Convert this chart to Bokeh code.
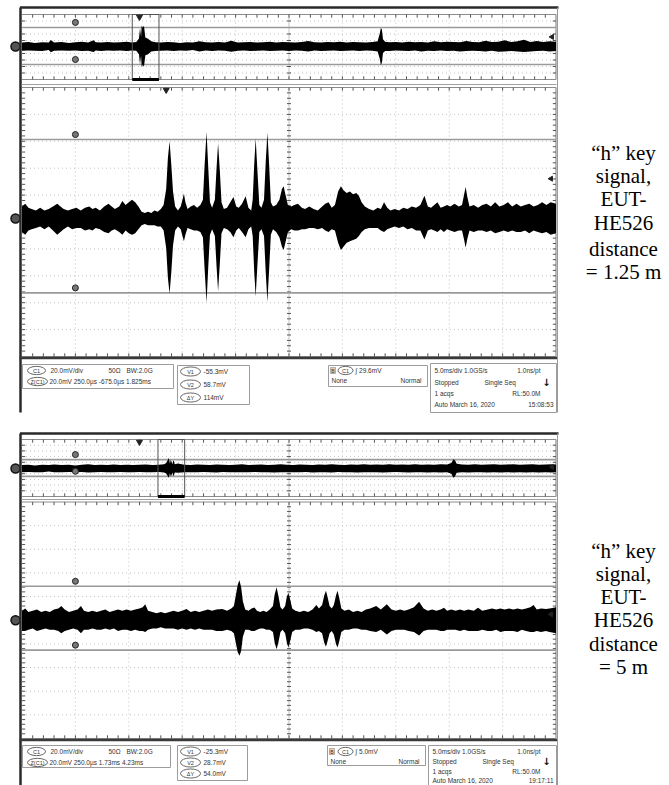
import math
from bokeh.plotting import figure
from bokeh.models import Range1d
from bokeh.embed import file_html
from bokeh.resources import INLINE
from bokeh.core.properties import value

# ================= DATA =================
# ---- Scope 1: "h" key signal, EUT-HE526, distance = 1.25 m
S1_OV_WIN = [-11.0, 39.0]          # ms, overview (5.0 ms/div)
S1_ZOOM_WIN = [-0.675, 1.825]      # ms, zoom window (250 us/div)
S1_OV_V = [-101.5, 98.5]           # mV shown in overview
S1_MAIN_V = [-102.6, 97.4]         # mV shown in zoom view (20 mV/div)
S1_CURSORS = [58.7, -55.3]         # mV
S1_TRIG = 29.6                     # mV

S1_MAIN_T = [-0.675, -0.66, -0.645, -0.63, -0.61, -0.59, -0.57, -0.55, -0.53, -0.51, -0.495, -0.48, -0.46,
             -0.44, -0.42, -0.40, -0.38, -0.36, -0.345, -0.33, -0.31, -0.29, -0.27, -0.255, -0.24, -0.22,
             -0.205, -0.19, -0.175, -0.16, -0.145, -0.13, -0.115, -0.10, -0.085, -0.07, -0.055, -0.04,
             -0.025, -0.012, 0.0, 0.008, 0.016, 0.024, 0.032, 0.042, 0.055, 0.068, 0.078, 0.083, 0.09,
             0.10, 0.115, 0.13, 0.145, 0.16, 0.172, 0.18, 0.189, 0.197, 0.205, 0.215, 0.228, 0.236,
             0.243, 0.251, 0.259, 0.27, 0.285, 0.30, 0.315, 0.328, 0.34, 0.355, 0.372, 0.385, 0.398,
             0.405, 0.412, 0.419, 0.427, 0.436, 0.446, 0.458, 0.466, 0.474, 0.482, 0.49, 0.50, 0.515,
             0.53, 0.542, 0.55, 0.558, 0.57, 0.585, 0.60, 0.617, 0.635, 0.65, 0.67, 0.69, 0.71, 0.73,
             0.745, 0.76, 0.775, 0.79, 0.805, 0.818, 0.83, 0.845, 0.86, 0.875, 0.89, 0.902, 0.915,
             0.93, 0.95, 0.97, 0.99, 1.005, 1.02, 1.035, 1.05, 1.07, 1.09, 1.11, 1.13, 1.15, 1.17,
             1.19, 1.209, 1.225, 1.24, 1.255, 1.27, 1.285, 1.30, 1.315, 1.33, 1.35, 1.37, 1.385,
             1.395, 1.402, 1.41, 1.42, 1.44, 1.46, 1.48, 1.50, 1.52, 1.54, 1.56, 1.58, 1.60, 1.62,
             1.64, 1.66, 1.68, 1.70, 1.72, 1.74, 1.76, 1.78, 1.80, 1.825]
S1_MAIN_UP = [9, 11, 8, 7, 6, 8, 6, 7, 9, 11, 9, 7, 6,
              7, 8, 6, 8, 9, 7, 8, 6, 9, 11, 9, 7, 9,
              13, 10, 12, 14, 12, 9, 5, 4, 5, 4, 6, 5,
              7, 10, 22, 45, 57.5, 40, 20, 9, 6, 9, 15, 18.5, 12,
              7, 9, 10, 8, 10, 14, 40, 64.5, 38, 12, 8, 14, 38,
              56, 36, 12, 7, 8, 12, 16, 9, 8, 11, 16.5, 8, 6,
              14, 40, 59.5, 36, 10, 8, 14, 42, 64, 40, 12, 9, 10,
              14, 22, 24, 18, 10, 9, 10, 11, 8, 7, 9, 7, 6, 9,
              11, 12, 8, 10, 20, 24, 21, 19, 20, 18, 19, 17, 12,
              9, 7, 6, 8, 7, 12, 8, 6, 7, 6, 8, 7, 9, 8,
              10, 17, 9, 8, 10, 12, 8, 9, 10, 9, 11, 9, 10,
              18, 23.5, 16, 9, 10, 8, 10, 11, 9, 12, 9, 10, 12, 9,
              11, 9, 10, 11, 9, 10, 12, 10, 12, 11]
S1_MAIN_DN = [10, 12, 9, 8, 7, 6, 8, 6, 9, 12, 10, 8, 6,
              8, 7, 7, 9, 8, 9, 7, 8, 10, 11, 9, 8, 10,
              12, 9, 11, 12, 11, 8, 5, 4, 5, 5, 5, 6,
              6, 9, 22, 44, 56, 40, 20, 9, 6, 8, 14, 17, 12,
              7, 8, 9, 9, 10, 14, 38, 62.7, 36, 12, 8, 13, 36,
              54, 34, 11, 7, 8, 10, 14, 9, 7, 10, 14, 8, 6,
              13, 39, 58, 35, 10, 8, 13, 40, 62, 38, 12, 8, 10,
              14, 21, 23.5, 18, 10, 8, 9, 9, 8, 8, 7, 7, 8, 7,
              9, 10, 8, 9, 18, 23.5, 21, 18, 17, 16, 15, 13, 10,
              8, 7, 7, 7, 9, 10, 8, 7, 6, 7, 6, 8, 7, 9,
              9, 15.6, 9, 8, 9, 10, 8, 10, 8, 9, 10, 9, 9,
              16, 21.6, 15, 9, 10, 9, 9, 10, 9, 11, 10, 9, 10, 9,
              10, 10, 9, 11, 9, 10, 11, 10, 12, 11]

S1_OV_T = [-11.0, -10.4, -9.8, -9.1, -8.5, -8.3, -8.0, -7.3, -6.6, -6.0, -5.4, -4.8, -4.3, -4.1, -3.6,
           -3.0, -2.4, -1.8, -1.2, -0.7, -0.3, -0.05, 0.05, 0.15, 0.2, 0.3, 0.42, 0.55, 0.8, 1.1, 1.5,
           2.0, 2.6, 3.2, 3.8, 4.4, 5.0, 5.6, 6.2, 6.8, 7.4, 8.0, 8.6, 9.2, 9.8, 10.4, 11.0, 11.6,
           12.2, 12.8, 13.4, 14.0, 14.6, 15.2, 15.8, 16.4, 17.0, 17.6, 18.2, 18.8, 19.4, 20.0, 20.6,
           21.2, 21.8, 22.3, 22.5, 22.6, 22.7, 22.8, 23.0, 23.4, 24.0, 24.6, 25.2, 25.8, 26.4, 27.0,
           27.6, 28.2, 28.8, 29.4, 30.0, 30.6, 31.2, 31.8, 32.4, 33.0, 33.6, 34.2, 34.8, 35.4, 36.0,
           36.6, 37.2, 37.8, 38.4, 39.0]
S1_OV_UP = [12, 14, 11, 13, 12, 20, 12, 14, 11, 13, 15, 12, 19, 13, 12,
            14, 12, 13, 15, 12, 14, 25, 57, 30, 65, 58, 64, 28, 24, 16, 13,
            12, 14, 13, 11, 13, 12, 16, 13, 12, 14, 12, 18, 12, 13, 14, 12, 13,
            15, 12, 14, 13, 12, 14, 17, 13, 12, 14, 13, 15, 12, 14, 13,
            12, 14, 16, 40, 57, 52, 22, 15, 13, 14, 12, 15, 13, 14, 12,
            16, 13, 15, 14, 13, 17, 14, 13, 18, 14, 15, 19, 14, 16, 21,
            14, 17, 14, 16, 15]
S1_OV_DN = [13, 12, 13, 14, 11, 18, 13, 12, 13, 12, 14, 13, 17, 12, 14,
            12, 13, 12, 14, 12, 13, 24, 55, 28, 63, 56, 62, 27, 24, 15, 14,
            13, 12, 14, 12, 13, 11, 15, 12, 14, 12, 13, 16, 13, 12, 14, 13, 12,
            14, 13, 12, 14, 12, 13, 15, 12, 14, 13, 12, 14, 13, 12, 14,
            12, 13, 15, 38, 57, 50, 20, 14, 14, 12, 13, 14, 12, 15, 13,
            14, 12, 14, 13, 15, 14, 13, 14, 15, 13, 16, 15, 14, 15, 17,
            15, 14, 13, 15, 14]

# ---- Scope 2: "h" key signal, EUT-HE526, distance = 5 m
S2_OV_WIN = [-11.0, 39.0]
S2_ZOOM_WIN = [1.73, 4.23]
S2_OV_V = [-90.3, 93.5]
S2_MAIN_V = [-100.0, 100.0]
S2_CURSORS = [28.7, -25.3]
S2_TRIG = 5.0

S2_MAIN_T = [1.73, 1.745, 1.76, 1.78, 1.80, 1.82, 1.84, 1.86, 1.88, 1.90, 1.914, 1.93, 1.95, 1.97, 1.99,
             2.006, 2.02, 2.04, 2.06, 2.08, 2.10, 2.12, 2.14, 2.16, 2.18, 2.20, 2.22, 2.24, 2.26, 2.28,
             2.295, 2.307, 2.32, 2.34, 2.36, 2.38, 2.40, 2.42, 2.44, 2.46, 2.48, 2.50, 2.52, 2.54, 2.56,
             2.58, 2.60, 2.62, 2.64, 2.668, 2.69, 2.71, 2.722, 2.732, 2.74, 2.748, 2.756, 2.764, 2.775,
             2.79, 2.805, 2.818, 2.83, 2.845, 2.86, 2.875, 2.89, 2.905, 2.913, 2.922, 2.93, 2.94, 2.95,
             2.962, 2.97, 2.977, 2.985, 2.995, 3.01, 3.03, 3.05, 3.07, 3.09, 3.108, 3.12, 3.135, 3.145,
             3.153, 3.16, 3.17, 3.18, 3.19, 3.20, 3.207, 3.215, 3.225, 3.24, 3.26, 3.28, 3.30, 3.32,
             3.34, 3.36, 3.388, 3.41, 3.438, 3.46, 3.48, 3.50, 3.52, 3.54, 3.565, 3.589, 3.61, 3.63,
             3.65, 3.67, 3.69, 3.706, 3.72, 3.74, 3.76, 3.78, 3.80, 3.82, 3.845, 3.865, 3.885, 3.91,
             3.93, 3.95, 3.97, 3.99, 4.01, 4.03, 4.05, 4.07, 4.09, 4.11, 4.125, 4.14, 4.16, 4.183,
             4.20, 4.23]
S2_MAIN_UP = [8, 10, 7, 8, 9, 7, 8, 7, 9, 10, 12, 9, 7, 8, 9,
              12, 8, 7, 8, 7, 8, 9, 7, 8, 9, 8, 9, 8, 9, 10,
              11, 13.5, 8, 7, 6, 7, 6, 7, 8, 7, 8, 9.5, 7, 8, 7,
              8, 9, 8, 9, 9.5, 8, 10, 12, 22, 30, 33.8, 28, 16, 9,
              8, 10, 10.7, 8, 7, 8, 7, 9, 12, 22, 28, 21, 11, 9,
              12, 20, 23, 18, 10, 8, 7, 8, 7, 9, 13, 10, 13, 21,
              25, 20, 12, 10, 13, 21, 25, 19, 10, 8, 9, 7, 8, 7,
              9, 10, 12, 9, 13.5, 9, 8, 9, 8, 9, 11, 15.7, 10, 8,
              9, 8, 9, 10.5, 8, 9, 8, 9, 8, 9, 8, 10.5, 8, 9,
              10, 9, 10, 9, 10, 9, 10, 9, 10, 11, 13, 9, 10, 9.5,
              10, 11]
S2_MAIN_DN = [9, 9, 8, 7, 9, 8, 7, 8, 8, 9, 11, 9, 8, 7, 8,
              11, 8, 8, 7, 8, 8, 7, 8, 7, 9, 8, 8, 9, 8, 9,
              9, 10, 8, 7, 7, 6, 7, 7, 7, 8, 7, 8, 7, 8, 7,
              8, 8, 8, 9, 9, 8, 9, 11, 20, 27, 30, 26, 14, 8,
              8, 9, 9, 8, 7, 7, 8, 8, 10, 19, 24.5, 19, 10, 8,
              11, 19, 23, 18, 10, 8, 8, 7, 7, 8, 10, 9, 11, 19,
              22.5, 18, 11, 9, 12, 20, 23, 18, 10, 8, 8, 7, 7, 8,
              8, 9, 10, 8, 12, 9, 8, 8, 8, 9, 10, 13, 9, 8,
              8, 8, 9, 9, 8, 8, 8, 9, 8, 9, 9, 9, 8, 9,
              9, 8, 10, 9, 9, 9, 10, 8, 9, 10, 10, 9, 10, 9,
              10, 11]

S2_OV_T = [-11.0, -10.4, -9.8, -9.1, -8.5, -8.0, -7.3, -6.6, -6.0, -5.4, -4.8, -4.2, -3.6, -3.0, -2.4,
           -1.8, -1.2, -0.6, 0.0, 0.6, 1.2, 1.8, 2.3, 2.5, 2.75, 2.85, 2.92, 2.98, 3.08, 3.15, 3.21,
           3.3, 3.6, 4.2, 4.8, 5.4, 6.0, 6.6, 7.2, 7.8, 8.4, 9.0, 9.6, 10.2, 10.8, 11.4, 12.0, 12.6,
           13.2, 13.8, 14.4, 15.0, 15.6, 16.2, 16.8, 17.4, 18.0, 18.6, 19.2, 19.8, 20.4, 21.0, 21.6,
           22.2, 22.8, 23.4, 24.0, 24.6, 25.2, 25.8, 26.4, 27.0, 27.6, 28.2, 28.8, 29.2, 29.4, 29.55,
           29.7, 30.2, 30.8, 31.4, 32.0, 32.6, 33.2, 33.8, 34.4, 35.0, 35.6, 36.2, 36.8, 37.4, 38.0,
           38.6, 39.0]
S2_OV_UP = [11, 12, 10, 12, 11, 13, 11, 12, 10, 12, 14, 11, 12, 11, 13,
            11, 12, 11, 12, 13, 11, 12, 14, 18, 34, 16, 28, 24, 14, 25, 25,
            14, 16, 12, 11, 13, 12, 11, 13, 12, 11, 12, 14, 11, 12, 13, 11, 12,
            14, 12, 11, 13, 12, 11, 13, 12, 14, 12, 11, 13, 12, 14, 12,
            13, 12, 14, 12, 13, 12, 14, 12, 13, 12, 14, 13, 18, 30, 26,
            15, 13, 12, 14, 12, 13, 14, 12, 13, 14, 12, 13, 14, 12, 13,
            14, 13]
S2_OV_DN = [12, 11, 12, 12, 10, 12, 12, 11, 12, 11, 13, 12, 11, 12, 12,
            11, 12, 12, 11, 12, 12, 11, 13, 16, 30, 15, 25, 23, 13, 23, 23,
            13, 14, 12, 12, 12, 11, 12, 13, 11, 12, 12, 12, 12, 11, 12, 12, 13,
            12, 12, 12, 12, 11, 13, 12, 12, 13, 11, 12, 12, 13, 12, 12,
            12, 13, 12, 11, 12, 13, 12, 12, 13, 12, 13, 12, 17, 30, 25,
            14, 12, 13, 12, 12, 13, 12, 13, 12, 13, 12, 13, 12, 13, 12,
            13, 12]

# ---- texts
S1_LABEL = ["\u201ch\u201d key", "signal,", "EUT-", "HE526", "distance", "= 1.25 m"]
S2_LABEL = ["\u201ch\u201d key", "signal,", "EUT-", "HE526", "distance", "= 5 m"]
S1_INFO = dict(z="20.0mV 250.0\u00b5s  -675.0\u00b5s 1.825ms", v=["-55.3mV", "58.7mV", "114mV"],
               trig="\u222b 29.6mV", time="15:08:53")
S2_INFO = dict(z="20.0mV 250.0\u00b5s  1.73ms  4.23ms", v=["-25.3mV", "28.7mV", "54.0mV"],
               trig="\u222b 5.0mV", time="19:17:11")

# ================= LAYOUT (page pixels; the page body has no margin) =================
PX0, PX1, PY0, PY1 = 0, 669, 0, 785
W, H = PX1 - PX0, PY1 - PY0

G1 = dict(x0=21.5, x1=555.5, top=7, ov=(79, 14), sep=84, main=(356, 87), bottom=412,
          label_y=[152, 175, 198, 222, 248, 271],
          boxes=[(22, 173, 364, 388), (177, 249, 365, 404), (328, 427, 365, 386), (430, 556, 363, 412)],
          r1=[370, 381], r2=[371, 384, 397], r3=[370, 380], r4=[370, 382, 393, 404])
G2 = dict(x0=21.5, x1=555.5, top=433, ov=(496, 439), sep=499, main=(738, 501.5), bottom=785,
          label_y=[550, 573, 596, 619, 643, 666],
          boxes=[(22, 170, 745, 767), (177, 247, 745, 780), (327, 425, 745, 765), (428, 556, 745, 786)],
          r1=[751, 762], r2=[751, 762, 773], r3=[751, 761], r4=[751, 761, 771, 780])

XR, YR = {}, {}


def panel(name, dx, px, dy, py):
    (t0, t1), (xa, xb) = dx, px
    k = (t1 - t0) / (xb - xa)
    XR[name] = Range1d(t0 - (xa - PX0) * k, t1 + (PX1 - xb) * k)
    (v0, v1), (yb, yt) = dy, py
    m = (v1 - v0) / (yb - yt)
    YR[name] = Range1d(v0 - (PY1 - yb) * m, v1 + (yt - PY0) * m)
    return dict(x_range_name=name, y_range_name=name), k, m


P = {}
for nm, G, OW, ZW, OV, MV in [("1", G1, S1_OV_WIN, S1_ZOOM_WIN, S1_OV_V, S1_MAIN_V),
                              ("2", G2, S2_OV_WIN, S2_ZOOM_WIN, S2_OV_V, S2_MAIN_V)]:
    P["ov" + nm] = panel("ov" + nm, OW, (G["x0"], G["x1"]), OV, G["ov"])
    P["mn" + nm] = panel("mn" + nm, ZW, (G["x0"], G["x1"]), MV, G["main"])

p = figure(width=W, height=H, x_range=Range1d(PX0, PX1), y_range=Range1d(PY1, PY0),
           x_axis_type=None, y_axis_type=None, toolbar_location=None, output_backend="svg",
           min_border=0, outline_line_color=None, background_fill_color="white",
           border_fill_color="white")
p.extra_x_ranges = XR
p.extra_y_ranges = YR

FONT = value("Liberation Sans")


def draw_grid(kw, k, m, tw, vw, yminor):
    t0, t1 = tw
    v0, v1 = vw
    dx = (t1 - t0) / 10
    dy = (v1 - v0) / 10
    tc, vc = (t0 + t1) / 2, (v0 + v1) / 2
    xs = [[t0 + i * dx] * 2 for i in range(1, 10) if i != 5]
    p.multi_line(xs, [[v0, v1]] * len(xs), line_color="#c4c4c4", line_dash="1 3", line_width=1, **kw)
    ys = [[v0 + j * dy] * 2 for j in range(1, 10) if j != 5]
    p.multi_line([[t0, t1]] * len(ys), ys, line_color="#c4c4c4", line_dash="1 3", line_width=1, **kw)
    p.multi_line([[tc, tc], [t0, t1]], [[v0, v1], [vc, vc]], line_color="#8a8a8a",
                 line_dash="1 1", line_width=1, **kw)
    p.multi_line([[t0, t1], [t0, t1], [t1, t1]], [[v1, v1], [v0, v0], [v0, v1]],
                 line_color="#8c8c8c", line_width=1.2, **kw)
    el = 3.2
    cl = 2.0
    x0s, y0s, x1s, y1s = [], [], [], []
    for i in range(1, 50):
        x = t0 + i * dx / 5
        x0s += [x, x, x]
        x1s += [x, x, x]
        y0s += [v1, v0, vc - cl * m]
        y1s += [v1 - el * m, v0 + el * m, vc + cl * m]
    for j in range(1, 10 * yminor):
        y = v0 + j * dy / yminor
        y0s += [y, y, y]
        y1s += [y, y, y]
        x0s += [t0, t1, tc - cl * k]
        x1s += [t0 + el * k, t1 - el * k, tc + cl * k]
    p.segment(x0s, y0s, x1s, y1s, line_color="#555555", line_width=1, **kw)


def draw_scope(nm, G, OW, ZW, OV, MV, ovT, ovU, ovD, mT, mU, mD, cursors, trig, main_trig):
    kwo, ko, mo = P["ov" + nm]
    kwm, km, mm = P["mn" + nm]
    # ---------- overview ----------
    draw_grid(kwo, ko, mo, OW, OV, 1)
    p.multi_line([[OW[0], OW[1]]] * 2, [[c, c] for c in cursors], line_color="#9a9a9a",
                 line_width=1.6, **kwo)
    p.varea(x=ovT, y1=[-d for d in ovD], y2=ovU, fill_color="black", **kwo)
    p.quad(left=[ZW[0]], right=[ZW[1]], bottom=[OV[0]], top=[OV[1]], fill_color=None,
           line_color="#555555", line_width=1, **kwo)
    p.segment([ZW[0]], [OV[0]], [ZW[1]], [OV[0]], line_color="black", line_width=3, **kwo)
    p.scatter([0.0], [OV[1] - 2.5 * mo], marker="inverted_triangle", size=6, color="#222222", **kwo)
    p.scatter([OW[0] + (OW[1] - OW[0]) / 10] * 2, [c + 5 * mo for c in cursors], size=6,
              fill_color="#777777", line_color="#222222", **kwo)
    p.scatter([OW[0] - 6.5 * ko], [0.0], size=9, fill_color="#555555", line_color="#111111",
              line_width=1.5, **kwo)
    p.scatter([OW[1] - 4 * ko], [trig], marker="triangle", angle=math.pi / 2, size=5,
              color="#222222", **kwo)
    # ---------- zoom view ----------
    draw_grid(kwm, km, mm, ZW, MV, 5)
    p.multi_line([[ZW[0], ZW[1]]] * 2, [[c, c] for c in cursors], line_color="#9a9a9a",
                 line_width=1.6, **kwm)
    p.varea(x=mT, y1=[-d for d in mD], y2=mU, fill_color="black", **kwm)
    if main_trig:
        p.scatter([0.0], [MV[1] - 2.5 * mm], marker="inverted_triangle", size=6, color="#222222", **kwm)
    p.scatter([ZW[0] + (ZW[1] - ZW[0]) / 10] * 2, [c + 5 * mm for c in cursors], size=6,
              fill_color="#777777", line_color="#222222", **kwm)
    p.scatter([ZW[0] - 6.5 * km], [0.0], size=9, fill_color="#555555", line_color="#111111",
              line_width=1.5, **kwm)
    p.scatter([ZW[1] - 5 * km], [trig], marker="triangle", angle=math.pi / 2, size=5,
              color="#222222", **kwm)
    # ---------- screen frame (page px) ----------
    p.segment([19.5, 20], [G["top"], G["top"]], [558, 20], [G["top"], G["bottom"]],
              line_color="#2a2a2a", line_width=2.5)
    p.segment([19, 557, 21], [G["main"][0] + 1.5, G["top"], G["sep"]],
              [557, 557, 556], [G["main"][0] + 1.5, G["bottom"], G["sep"]],
              line_color=["#3a3a3a", "#9a9a9a", "#a0a0a0"], line_width=[2.5, 1, 1])


draw_scope("1", G1, S1_OV_WIN, S1_ZOOM_WIN, S1_OV_V, S1_MAIN_V, S1_OV_T, S1_OV_UP, S1_OV_DN,
           S1_MAIN_T, S1_MAIN_UP, S1_MAIN_DN, S1_CURSORS, S1_TRIG, True)
draw_scope("2", G2, S2_OV_WIN, S2_ZOOM_WIN, S2_OV_V, S2_MAIN_V, S2_OV_T, S2_OV_UP, S2_OV_DN,
           S2_MAIN_T, S2_MAIN_UP, S2_MAIN_DN, S2_CURSORS, S2_TRIG, False)


def txt(xs, ys, ts, size="6.5px", align="left", color="#333333", font=FONT, style="normal"):
    p.text(x=xs, y=ys, text=ts, text_font=font, text_font_size=size, text_align=align,
           text_baseline="middle", text_color=color, text_font_style=style)


def draw_info(G, INFO):
    b = G["boxes"]
    p.quad(left=[q[0] for q in b], right=[q[1] for q in b], top=[q[2] for q in b],
           bottom=[q[3] for q in b], fill_color=None, line_color="#9c9c9c", line_width=1)
    r1, r2, r3, r4 = G["r1"], G["r2"], G["r3"], G["r4"]
    ph = (r1[1] - r1[0]) * 0.75
    p.ellipse(x=[36, 37] + [190] * 3 + [345], y=r1 + r2 + [r3[0]],
              width=[18, 20, 20, 20, 20, 15], height=[ph, ph] + [ph * 1.1] * 3 + [ph],
              fill_color=None, line_color="#666666", line_width=1)
    txt([36, 37], r1, ["C1", "Z(C1)"], size="5.5px", align="center")
    txt([345], [r3[0]], ["C1"], size="5.5px", align="center")
    txt([190] * 3, r2, ["V1", "V2", "\u0394Y"], size="5.5px", align="center")
    txt([50, 108, 126, 49], [r1[0], r1[0], r1[0], r1[1]],
        ["20.0mV/div", "50\u03a9", "BW:2.0G", INFO["z"]])
    txt([203] * 3, r2, INFO["v"])
    p.quad(left=[b[2][0] + 2], right=[b[2][0] + 7], top=[r3[0] - 3], bottom=[r3[0] + 3],
           fill_color="#f2c9a0", line_color="#888888", line_width=0.6)
    txt([b[2][0] + 4.5], [r3[0]], ["B"], size="5px", align="center")
    txt([355], [r3[0]], [INFO["trig"]])
    txt([b[2][0] + 3], [r3[1]], ["None"])
    txt([b[2][1] - 6], [r3[1]], ["Normal"], align="right")
    x4 = b[3][0] + 4
    txt([x4, x4, x4, x4], r4, ["5.0ms/div  1.0GS/s", "Stopped", "1 acqs", "Auto    March 16, 2020"])
    txt([x4 + 50], [r4[1]], ["Single Seq"])
    txt([540, 540, 553], [r4[0], r4[2], r4[3]], ["1.0ns/pt", "RL:50.0M", INFO["time"]], align="right")
    txt([546], [r4[1]], ["\u2193"], size="10px", align="center", color="#111111",
        font=value("DejaVu Sans"), style="bold")


draw_info(G1, S1_INFO)
draw_info(G2, S2_INFO)

for G, LAB in [(G1, S1_LABEL), (G2, S2_LABEL)]:
    p.text(x=[623] * len(LAB), y=G["label_y"], text=LAB, text_font=value("Liberation Serif"),
           text_font_size="21px", text_align="center", text_baseline="middle", text_color="black")

open("out.html", "w").write(file_html(p, INLINE))
